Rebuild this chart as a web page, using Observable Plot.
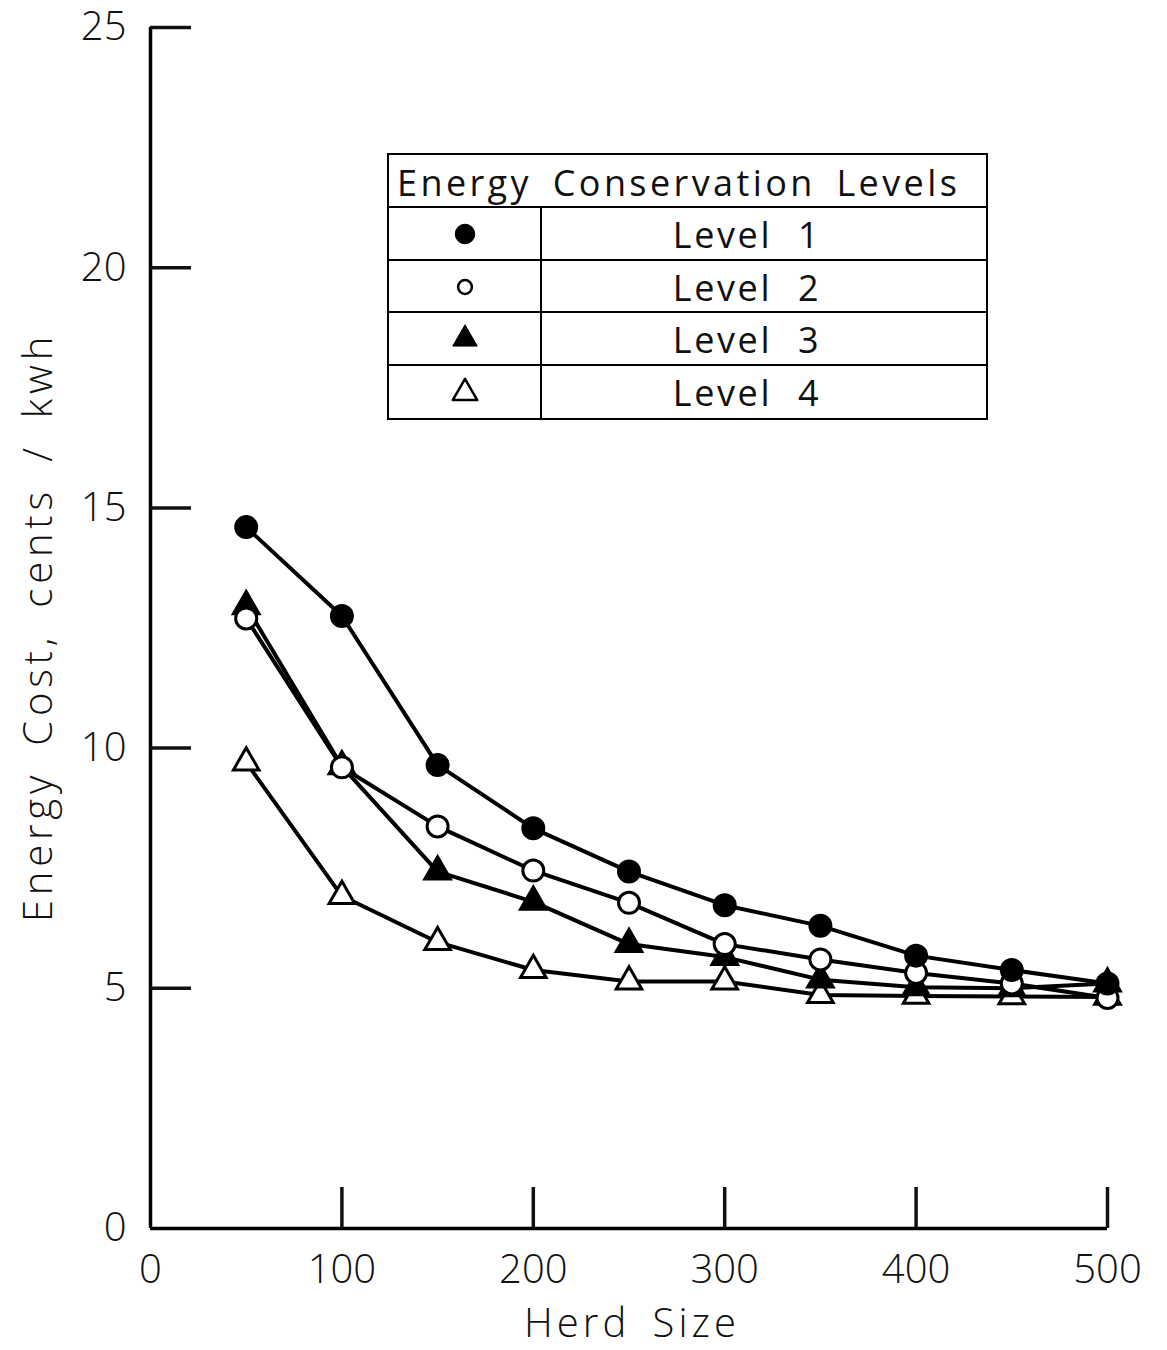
<!DOCTYPE html>
<html>
<head>
<meta charset="utf-8">
<script src="https://cdn.jsdelivr.net/npm/d3@7"></script>
<script src="https://cdn.jsdelivr.net/npm/@observablehq/plot@0.6"></script>
<style>
  html, body { margin: 0; padding: 0; background: #fff; }
  #wrap { position: relative; width: 1167px; height: 1350px; font-family: "Open Sans", sans-serif; }
  #legend {
    position: absolute; left: 387px; top: 153px; width: 601px;
    border: 2.5px solid #000; box-sizing: border-box; background: #fff;
  }
  #legend .head {
    height: 53px; line-height: 56px; font-size: 36px; letter-spacing: 3.4px; word-spacing: 8px;
    padding-left: 8px; border-bottom: 2.5px solid #000; box-sizing: border-box; color: #111; white-space: nowrap;
  }
  #legend .row { display: flex; height: 52.5px; border-bottom: 2px solid #000; box-sizing: border-box; }
  #legend .row:last-child { border-bottom: none; }
  #legend .sym { width: 151px; border-right: 2px solid #000; display: flex; align-items: center; justify-content: center; }
  #legend .lab { flex: 1; text-align: center; font-size: 36px; letter-spacing: 2.6px; word-spacing: 14px; line-height: 54px; color: #111; padding-right: 34px; }
</style>
</head>
<body>
<div id="wrap"></div>
<script>
// Herd size (x) and energy cost in cents per kWh for each conservation level
const herdSize = [50, 100, 150, 200, 250, 300, 350, 400, 450, 500];
const level1 = [14.6, 12.75, 9.65, 8.33, 7.43, 6.73, 6.3, 5.68, 5.38, 5.1];
const level2 = [12.7, 9.6, 8.37, 7.45, 6.78, 5.92, 5.6, 5.32, 5.1, 4.8];
const level3 = [12.95, 9.62, 7.43, 6.8, 5.92, 5.65, 5.18, 5.02, 5.0, 5.1];
const level4 = [9.7, 6.92, 5.96, 5.38, 5.14, 5.14, 4.86, 4.84, 4.83, 4.82];

const levelNames = ["Level 1", "Level 2", "Level 3", "Level 4"];
const xTicks = [0, 100, 200, 300, 400, 500];
const yTicks = [0, 5, 10, 15, 20, 25];

// marker style per level: symbol and fill
const styles = {
  "Level 1": {symbol: "circle", fill: "#000"},
  "Level 2": {symbol: "circle", fill: "#fff"},
  "Level 3": {symbol: "triangle", fill: "#000"},
  "Level 4": {symbol: "triangle", fill: "#fff"}
};

const seriesValues = [level1, level2, level3, level4];
const rows = levelNames.flatMap((name, i) =>
  herdSize.map((h, j) => ({level: name, herd: h, cost: seriesValues[i][j]}))
);

const font = "Open Sans, sans-serif";

const dotsFor = (name) => Plot.dot(rows.filter(d => d.level === name), {
  x: "herd", y: "cost",
  symbol: () => styles[name].symbol,
  r: styles[name].symbol === "triangle" ? 9.5 : 10.5,
  fill: styles[name].fill,
  stroke: "#000",
  strokeWidth: 3
});

const chart = Plot.plot({
  width: 1167,
  height: 1350,
  marginLeft: 150,
  marginRight: 60,
  marginTop: 27,
  marginBottom: 122,
  style: {fontFamily: font, fontSize: "40px", color: "#111", background: "#fff", overflow: "visible"},
  x: {domain: [0, 500], label: null},
  y: {domain: [0, 25], label: null},
  symbol: {type: "identity"},
  marks: [
    // axis lines
    Plot.ruleX([0], {y1: 0, y2: 25, stroke: "#000", strokeWidth: 3.5}),
    Plot.ruleY([0], {x1: 0, x2: 500, stroke: "#000", strokeWidth: 3.5}),
    // inward ticks
    Plot.axisY(yTicks.filter(d => d > 0), {tickSize: -41, strokeWidth: 3.5, text: null, label: null}),
    Plot.axisX(xTicks.filter(d => d > 0), {tickSize: -41, strokeWidth: 3.5, text: null, label: null}),
    // tick labels
    Plot.axisY(yTicks, {tickSize: 0, tickPadding: 24, fontSize: 40, letterSpacing: 1, label: null, fontWeight: 300}),
    Plot.axisX(xTicks, {tickSize: 0, tickPadding: 26, fontSize: 40, letterSpacing: 2, label: null, fontWeight: 300}),
    // series lines
    ...levelNames.map(name => Plot.line(rows.filter(d => d.level === name), {
      x: "herd", y: "cost", stroke: "#000", strokeWidth: 4
    })),
    // markers
    ...levelNames.slice().reverse().map(dotsFor)
  ]
});

const wrap = document.getElementById("wrap");
wrap.appendChild(chart);

// axis titles
const svg = d3.select(chart);
svg.append("text")
  .attr("x", 632).attr("y", 1337)
  .attr("text-anchor", "middle")
  .attr("font-size", 40).attr("font-weight", 300)
  .attr("letter-spacing", 4).attr("word-spacing", 8)
  .attr("fill", "#111")
  .text("Herd Size");
svg.append("text")
  .attr("transform", "translate(52,627) rotate(-90)")
  .attr("text-anchor", "middle")
  .attr("font-size", 40).attr("font-weight", 300)
  .attr("letter-spacing", 4.8).attr("word-spacing", 10)
  .attr("fill", "#111")
  .text("Energy Cost, cents / kwh");

// legend table
const legend = d3.select(wrap).append("div").attr("id", "legend");
legend.append("div").attr("class", "head").text("Energy Conservation Levels");
levelNames.forEach(name => {
  const row = legend.append("div").attr("class", "row");
  row.append("div").attr("class", "sym")
    .append("svg").attr("width", 30).attr("height", 30)
    .append("path")
    .attr("transform", "translate(15,16)")
    .attr("d", d3.symbol(styles[name].symbol === "triangle" ? d3.symbolTriangle : d3.symbolCircle,
                         styles[name].symbol === "triangle" ? 260 : (styles[name].fill === "#000" ? 300 : 150))())
    .attr("fill", styles[name].fill)
    .attr("stroke", "#000")
    .attr("stroke-width", styles[name].fill === "#000" ? 1 : 2.5)
    .attr("stroke-linejoin", "round");
  row.append("div").attr("class", "lab").text(name);
});
</script>
</body>
</html>
